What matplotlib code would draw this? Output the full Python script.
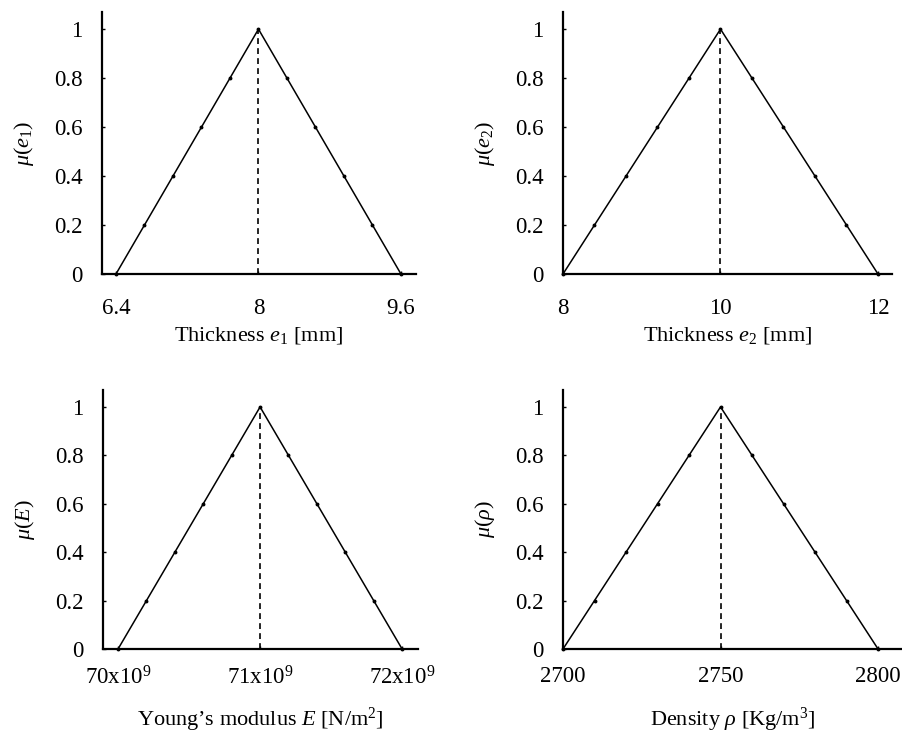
import matplotlib
matplotlib.use("Agg")
import matplotlib.pyplot as plt

plt.rcParams['font.family'] = ['Liberation Serif', 'DejaVu Serif']
plt.rcParams['mathtext.fontset'] = 'custom'
plt.rcParams['mathtext.rm'] = 'Liberation Serif'
plt.rcParams['mathtext.it'] = 'Liberation Serif:italic'
plt.rcParams['mathtext.bf'] = 'Liberation Serif:bold'

# membership grades (alpha-cut levels)
mu = [0, 0.2, 0.4, 0.6, 0.8, 1.0, 0.8, 0.6, 0.4, 0.2, 0]

# Thickness e1 [mm]
e1_x = [6.4, 6.72, 7.04, 7.36, 7.68, 8.0, 8.32, 8.64, 8.96, 9.28, 9.6]
e1_ticks = [6.4, 8, 9.6]
e1_ticklabels = ['6.4', '8', '9.6']

# Thickness e2 [mm]
e2_x = [8.0, 8.4, 8.8, 9.2, 9.6, 10.0, 10.4, 10.8, 11.2, 11.6, 12.0]
e2_ticks = [8, 10, 12]
e2_ticklabels = ['8', '10', '12']

# Young's modulus E [N/m^2]
E_x = [70.0e9, 70.2e9, 70.4e9, 70.6e9, 70.8e9, 71.0e9, 71.2e9, 71.4e9, 71.6e9, 71.8e9, 72.0e9]
E_ticks = [70e9, 71e9, 72e9]
E_ticklabels = ['70x10$^9$', '71x10$^9$', '72x10$^9$']

# Density rho [Kg/m^3]
rho_x = [2700, 2710, 2720, 2730, 2740, 2750, 2760, 2770, 2780, 2790, 2800]
rho_ticks = [2700, 2750, 2800]
rho_ticklabels = ['2700', '2750', '2800']

y_ticks = [0, 0.2, 0.4, 0.6, 0.8, 1]
y_ticklabels = ['0', '0.2', '0.4', '0.6', '0.8', '1']

W, H = 902, 737
fig = plt.figure(figsize=(W / 100, H / 100), dpi=100)

def px_axes(l, t, r, b):
    return fig.add_axes([l / W, (H - b) / H, (r - l) / W, (b - t) / H])

panels = [
    dict(rect=(102, 12, 416, 274), x=e1_x, peak=8.0, xlim=(6.243, 9.769),
         ticks=e1_ticks, tl=e1_ticklabels, xlabel=r'Thickness $e_{\mathit{1}}$ [mm]',
         ylabel=r'$\mu(e_{\mathit{1}})$', tlpad=17, xl_y=335),
    dict(rect=(563, 12, 892, 274), x=e2_x, peak=10.0, xlim=(8.0, 12.178),
         ticks=e2_ticks, tl=e2_ticklabels, xlabel=r'Thickness $e_{\mathit{2}}$ [mm]',
         ylabel=r'$\mu(e_{\mathit{2}})$', tlpad=17, xl_y=335),
    dict(rect=(103, 390, 418, 649), x=E_x, peak=71e9, xlim=(69.894e9, 72.112e9),
         ticks=E_ticks, tl=E_ticklabels, xlabel='Young\u2019s modulus $E$ [N/m$^2$]',
         ylabel=r'$\mu(E)$', tlpad=12.5, xl_y=720),
    dict(rect=(563, 390, 902, 649), x=rho_x, peak=2750, xlim=(2700, 2807.6),
         ticks=rho_ticks, tl=rho_ticklabels, xlabel=r'Density $\rho$ [Kg/m$^3$]',
         ylabel=r'$\mu(\rho)$', tlpad=12.5, xl_y=720),
]

for p in panels:
    l, t, r, b = p['rect']
    ax = px_axes(l, t, r, b)
    ax.plot(p['x'], mu, color='black', lw=1.1, marker='o', ms=1.8,
            clip_on=False, zorder=3)
    ax.plot([p['peak'], p['peak']], [0, 1], color='black', lw=1.2,
            ls=(0, (3.5, 2.5)), zorder=2)
    ax.set_xlim(*p['xlim'])
    ax.set_ylim(0, 1.07)
    for s in ['top', 'right']:
        ax.spines[s].set_visible(False)
    for s in ['left', 'bottom']:
        ax.spines[s].set_linewidth(1.6)
    ax.set_xticks(p['ticks'])
    ax.set_xticklabels(p['tl'])
    ax.set_yticks(y_ticks)
    ax.set_yticklabels(y_ticklabels)
    ax.tick_params(axis='both', direction='in', length=2, width=1,
                   labelsize=16.5)
    ax.tick_params(axis='x', pad=p['tlpad'])
    ax.tick_params(axis='y', pad=14)
    # x label
    ax.set_xlabel(p['xlabel'], fontsize=16)
    hpx = b - t
    ax.xaxis.set_label_coords(0.5, -(p['xl_y'] - b) / hpx)
    ax.xaxis.label.set_va('center')
    # y label
    ax.set_ylabel(p['ylabel'], fontsize=16)
    wpx = r - l
    ax.yaxis.set_label_coords(-78 / wpx, 0.5)
    ax.yaxis.label.set_va('center')

fig.savefig('out.png', dpi=100)
